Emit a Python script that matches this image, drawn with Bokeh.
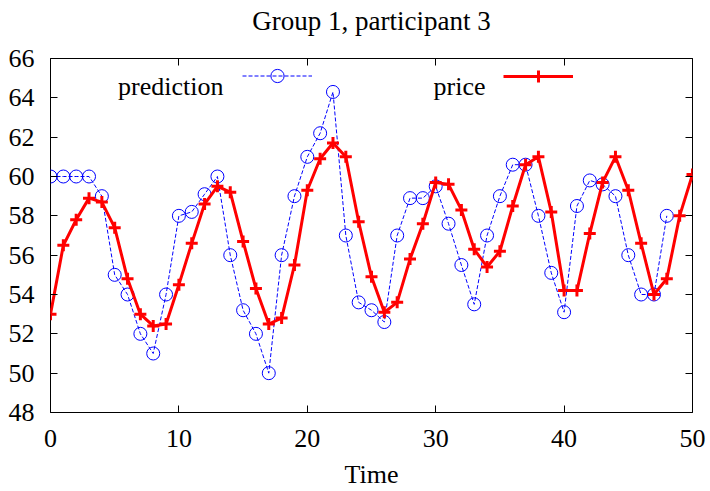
from bokeh.plotting import figure
from bokeh.models import (ColumnDataSource, FixedTicker, LinearAxis, Legend, LegendItem,
                          Label, Range1d, CustomJSTickFormatter)
from bokeh.embed import file_html
from bokeh.resources import INLINE

# ---- data ----
pred_time = list(range(0, 49))
prediction = [60, 60, 60, 60, 59, 55, 54, 52, 51, 54,
              58, 58.2, 59.1, 60, 56, 53.2, 52, 50, 56, 59,
              61, 62.2, 64.3, 57, 53.6, 53.2, 52.6, 57, 58.9, 58.9,
              59.5, 57.6, 55.5, 53.5, 57, 59, 60.6, 60.6, 58, 55.1,
              53.1, 58.5, 59.8, 59.6, 59, 56, 54, 54, 58]
price_time = list(range(0, 51))
price = [53.0, 56.5, 57.8, 58.9, 58.7, 57.4, 54.8, 53.0, 52.4, 52.5,
         54.5, 56.6, 58.6, 59.5, 59.2, 56.7, 54.3, 52.5, 52.8, 55.5,
         59.3, 60.9, 61.7, 61.0, 57.7, 54.9, 53.1, 53.6, 55.8, 57.6,
         59.7, 59.6, 58.3, 56.3, 55.4, 56.2, 58.5, 60.6, 61.0, 58.2,
         54.2, 54.2, 57.1, 59.7, 61.0, 59.3, 56.6, 54.0, 54.8, 58.0,
         60.1]
x_ticks = [0, 10, 20, 30, 40, 50]
y_ticks = [48, 50, 52, 54, 56, 58, 60, 62, 64, 66]
title_text = "Group 1, participant 3"
x_label = "Time"
series_names = ["prediction", "price"]

FONT = "Liberation Serif"

p = figure(width=710, height=491, output_backend="svg", toolbar_location=None,
           x_range=Range1d(0, 50), y_range=Range1d(48, 66),
           min_border_left=50, min_border_right=18, min_border_top=58, min_border_bottom=78,
           x_axis_location=None, y_axis_location=None)
p.title.text = title_text
p.title.text_font = FONT
p.title.text_font_size = "27px"
p.title.text_font_style = "normal"
p.title.align = "center"
p.title.text_color = "black"
p.title.standoff = 0

p.xgrid.visible = False
p.ygrid.visible = False
p.outline_line_color = "black"
p.outline_line_width = 1
p.background_fill_color = "white"
p.border_fill_color = "white"

blank = CustomJSTickFormatter(code="return ''")

def style_axis(ax, labels=True):
    ax.major_tick_in = 7
    ax.major_tick_out = 0
    ax.minor_tick_line_color = None
    ax.major_tick_line_color = "black"
    ax.major_tick_line_width = 1
    ax.axis_line_color = None
    ax.major_label_text_font = FONT
    ax.major_label_text_font_size = "26px"
    ax.major_label_text_color = "black"
    if not labels:
        ax.formatter = blank
        ax.major_label_standoff = 0
        ax.major_label_text_font_size = "1px"

xb = LinearAxis(ticker=FixedTicker(ticks=x_ticks), axis_label=x_label)
style_axis(xb)
xb.major_label_standoff = 17
xb.axis_label_text_font = FONT
xb.axis_label_text_font_size = "26px"
xb.axis_label_text_font_style = "normal"
xb.axis_label_text_color = "black"
xb.axis_label_standoff = 10
p.add_layout(xb, "below")

yl = LinearAxis(ticker=FixedTicker(ticks=y_ticks))
style_axis(yl)
yl.major_label_standoff = 16
p.add_layout(yl, "left")

# mirror ticks on top; a blank axis label reserves the gap under the title
xt = LinearAxis(ticker=FixedTicker(ticks=x_ticks), axis_label=" ")
style_axis(xt, labels=False)
xt.axis_label_text_font_size = "16px"
xt.axis_label_standoff = 3
p.add_layout(xt, "above")

yr = LinearAxis(ticker=FixedTicker(ticks=y_ticks))
style_axis(yr, labels=False)
p.add_layout(yr, "right")

src_pred = ColumnDataSource(dict(t=pred_time, v=prediction))
src_price = ColumnDataSource(dict(t=price_time, v=price))

l1 = p.line("t", "v", source=src_pred, line_color="#0000ff", line_width=1, line_dash="4 2")
s1 = p.scatter("t", "v", source=src_pred, marker="circle", size=13,
               line_color="#0000ff", line_width=1, fill_color=None)
l2 = p.line("t", "v", source=src_price, line_color="#ff0000", line_width=3)
s2 = p.scatter("t", "v", source=src_price, marker="cross", size=12,
               line_color="#ff0000", line_width=3)

def make_legend(renderers, loc, gh):
    lg = Legend(items=[LegendItem(label=" ", renderers=renderers)], location=loc,
                glyph_width=70, glyph_height=gh, padding=0, margin=0, spacing=0,
                label_standoff=0, label_width=0, label_height=0,
                border_line_color=None, background_fill_alpha=0,
                label_text_font_size="1px")
    p.add_layout(lg, "center")

# location = bottom-left corner of the legend box, in pixels from the frame's bottom-left
make_legend([l1, s1], (192, 320), 33)
make_legend([l2, s2], (453, 321), 30)

for txt, xx in zip(series_names, [173, 435]):
    p.add_layout(Label(x=xx, y=326, x_units="screen", y_units="screen", text=txt,
                       text_align="right", text_baseline="alphabetic",
                       text_font=FONT, text_font_size="26px", text_color="black"))

open("out.html", "w").write(file_html(p, INLINE))
